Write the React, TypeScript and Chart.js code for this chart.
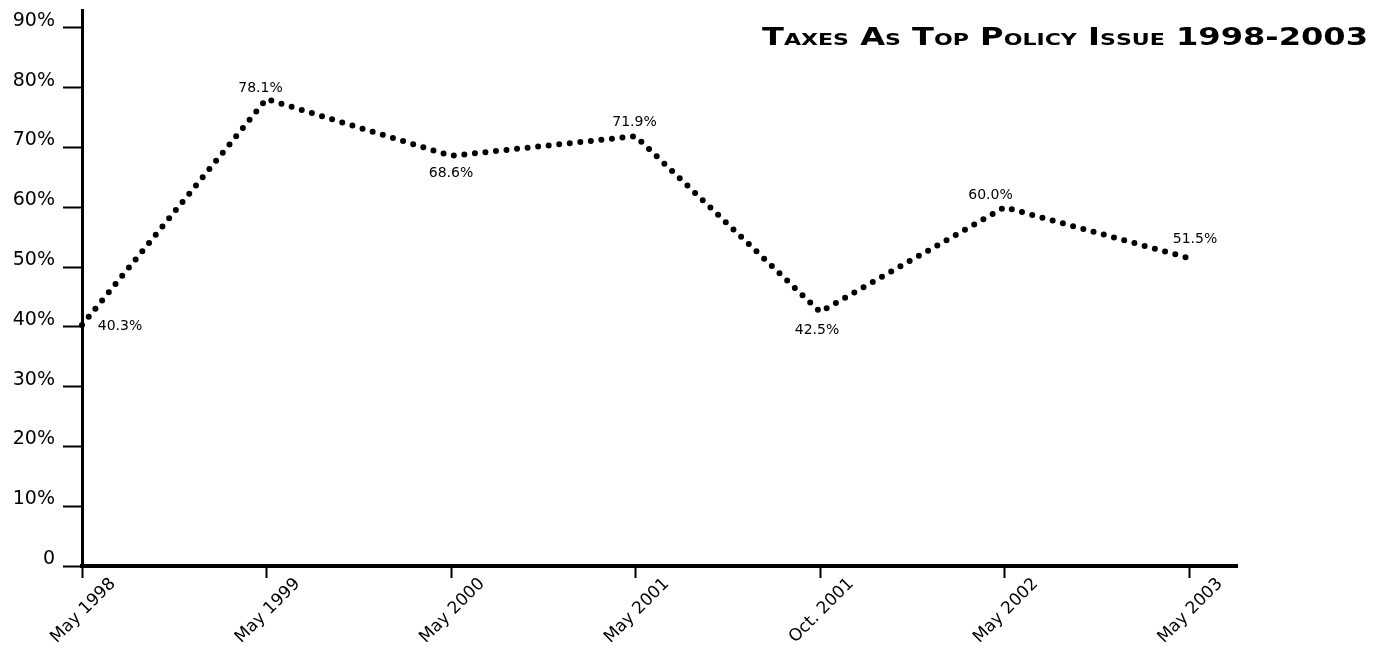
import React, { useEffect, useRef } from "react";
import { Chart, registerables } from "chart.js";

Chart.register(...registerables);

const categories = ["May 1998", "May 1999", "May 2000", "May 2001", "Oct. 2001", "May 2002", "May 2003"];
const values = [40.3, 78.1, 68.6, 71.9, 42.5, 60.0, 51.5];
const valueLabels = ["40.3%", "78.1%", "68.6%", "71.9%", "42.5%", "60.0%", "51.5%"];
const yTickValues = [0, 10, 20, 30, 40, 50, 60, 70, 80, 90];
const yTickLabels = ["0", "10%", "20%", "30%", "40%", "50%", "60%", "70%", "80%", "90%"];
const titleText = "Taxes as Top Policy Issue 1998-2003";

// style: value-label offsets (dx, dy) from the point
const labelOffsets = [
  [38, 5],
  [-6, -7],
  [0, 21],
  [-1, -10],
  [-3, 22],
  [-14, -8],
  [6, -15],
];

const FONT = "'DejaVu Sans', sans-serif";

const valueLabelPlugin = {
  id: "valueLabels",
  afterDatasetsDraw(chart: any) {
    const ctx = chart.ctx;
    const meta = chart.getDatasetMeta(0);
    ctx.save();
    ctx.fillStyle = "#000";
    ctx.font = `14px ${FONT}`;
    ctx.textAlign = "center";
    ctx.textBaseline = "alphabetic";
    meta.data.forEach((el: any, i: number) => {
      const [dx, dy] = labelOffsets[i];
      ctx.fillText(valueLabels[i], el.x + dx, el.y + dy);
    });
    ctx.restore();
  },
};

const titlePlugin = {
  id: "smallCapsTitle",
  afterDraw(chart: any) {
    const ctx = chart.ctx;
    const big = `bold 24px ${FONT}`;
    const small = `bold 16.5px ${FONT}`;
    const pieces: { t: string; f: string }[] = [];
    const words = titleText.split(" ");
    words.forEach((w, wi) => {
      for (let k = 0; k < w.length; k++) {
        const ch = w[k];
        const isLetter = /[A-Za-z]/.test(ch);
        if (isLetter && k > 0) pieces.push({ t: ch.toUpperCase(), f: small });
        else pieces.push({ t: ch.toUpperCase(), f: big });
      }
      if (wi < words.length - 1) pieces.push({ t: " ", f: big });
    });
    ctx.save();
    let total = 0;
    const widths = pieces.map((p) => {
      ctx.font = p.f;
      const w = ctx.measureText(p.t).width;
      total += w;
      return w;
    });
    const right = 1368;
    const left = 762;
    const sx = (right - left) / total;
    ctx.translate(left, 45);
    ctx.scale(sx, 1);
    let x = 0;
    ctx.fillStyle = "#000";
    ctx.textBaseline = "alphabetic";
    ctx.textAlign = "left";
    pieces.forEach((p, i) => {
      ctx.font = p.f;
      ctx.fillText(p.t, x, 0);
      x += widths[i];
    });
    ctx.restore();
  },
};

export default function App() {
  const ref = useRef<HTMLCanvasElement | null>(null);

  useEffect(() => {
    if (!ref.current) return;
    const chart = new Chart(ref.current, {
      type: "line",
      data: {
        datasets: [
          {
            data: values.map((v, i) => ({ x: i, y: v })),
            borderColor: "#000",
            borderWidth: 6,
            borderDash: [0, 10.6],
            borderCapStyle: "round",
            pointRadius: 0,
            fill: false,
            tension: 0,
            clip: 10,
          },
        ],
      },
      options: {
        animation: false,
        responsive: true,
        maintainAspectRatio: false,
        layout: { padding: { top: 10, right: 145, left: 0, bottom: 0 } },
        plugins: {
          legend: { display: false },
          tooltip: { enabled: false },
          title: { display: false },
        },
        scales: {
          x: {
            type: "linear",
            min: 0,
            max: 6.26,
            afterBuildTicks: (s: any) => {
              s.ticks = categories.map((_, i) => ({ value: i }));
            },
            afterFit: (s: any) => {
              s.height = 82;
              s.paddingLeft = 0;
              s.paddingRight = 0;
            },
            grid: {
              drawOnChartArea: false,
              drawTicks: true,
              tickLength: 12,
              tickWidth: 2,
              tickColor: "#000",
            },
            border: { display: true, color: "#000", width: 4 },
            ticks: {
              autoSkip: false,
              maxRotation: 45,
              minRotation: 45,
              labelOffset: 31,
              padding: -4,
              color: "#000",
              font: { family: FONT, size: 17 },
              callback: (_v: any, i: number) => categories[i],
            },
          },
          y: {
            type: "linear",
            min: 0,
            max: 93,
            afterBuildTicks: (s: any) => {
              s.ticks = yTickValues.map((v) => ({ value: v }));
            },
            afterFit: (s: any) => {
              s.width = 82;
              s.paddingTop = 0;
              s.paddingBottom = 0;
            },
            grid: {
              drawOnChartArea: false,
              drawTicks: true,
              tickLength: 19,
              tickWidth: 2,
              tickColor: "#000",
            },
            border: { display: true, color: "#000", width: 3 },
            ticks: {
              labelOffset: -7,
              padding: 8,
              color: "#000",
              font: { family: FONT, size: 19 },
              callback: (_v: any, i: number) => yTickLabels[i],
            },
          },
        },
      },
      plugins: [valueLabelPlugin, titlePlugin],
    } as any);
    return () => chart.destroy();
  }, []);

  return (
    <div style={{ position: "absolute", left: 0, top: 0, width: 1382, height: 648, background: "#fff" }}>
      <canvas ref={ref} />
    </div>
  );
}
